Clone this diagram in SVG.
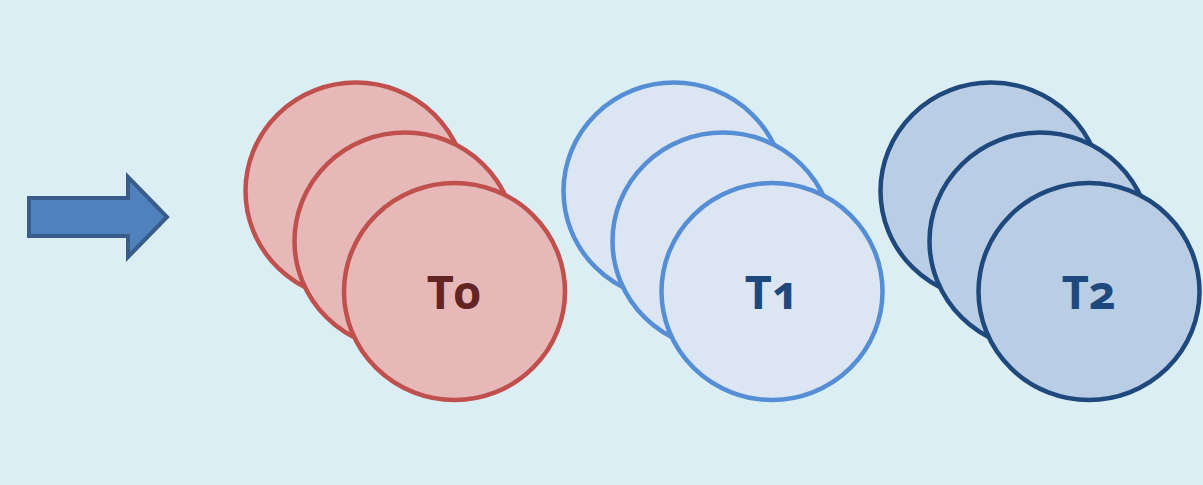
<svg xmlns="http://www.w3.org/2000/svg" width="1203" height="485" viewBox="0 0 1203 485">
<style>
.red{fill:#e6b9b8;stroke:#c0504d;stroke-width:4.5}
.lb{fill:#dce6f2;stroke:#558ed5;stroke-width:4.5}
.db{fill:#b9cde5;stroke:#1f497d;stroke-width:4.5}
.lbl{font-family:"Noto Sans","Liberation Sans",sans-serif;font-weight:bold;font-size:47px;text-anchor:middle;font-variant-numeric:oldstyle-nums}
</style>
<rect width="1203" height="485" fill="#dbeef4"/>
<g id="arrow">
<polygon points="29,198 128,198 128,177 167,217 128,257 128,236 29,236" fill="#4f81bd" stroke="#385d8a" stroke-width="4" stroke-linejoin="miter"/>
</g>
<g id="connectors"></g>
<g id="T0">
<ellipse class="red" cx="356" cy="191" rx="110.5" ry="108.5"/>
<ellipse class="red" cx="405" cy="241" rx="110.5" ry="108.5"/>
<ellipse class="red" cx="454.5" cy="291.5" rx="110.5" ry="108.5"/>
<text class="lbl" x="454" y="309" fill="#632523">T0</text>
</g>
<g id="T1">
<ellipse class="lb" cx="674" cy="191" rx="110.5" ry="108.5"/>
<ellipse class="lb" cx="723" cy="241" rx="110.5" ry="108.5"/>
<ellipse class="lb" cx="772" cy="291.5" rx="110.5" ry="108.5"/>
<text class="lbl" x="772" y="309" fill="#1f497d">T1</text>
</g>
<g id="T2">
<ellipse class="db" cx="991" cy="191" rx="110.5" ry="108.5"/>
<ellipse class="db" cx="1040" cy="241" rx="110.5" ry="108.5"/>
<ellipse class="db" cx="1089" cy="291.5" rx="110.5" ry="108.5"/>
<text class="lbl" x="1089" y="309" fill="#1f497d">T2</text>
</g>
</svg>
